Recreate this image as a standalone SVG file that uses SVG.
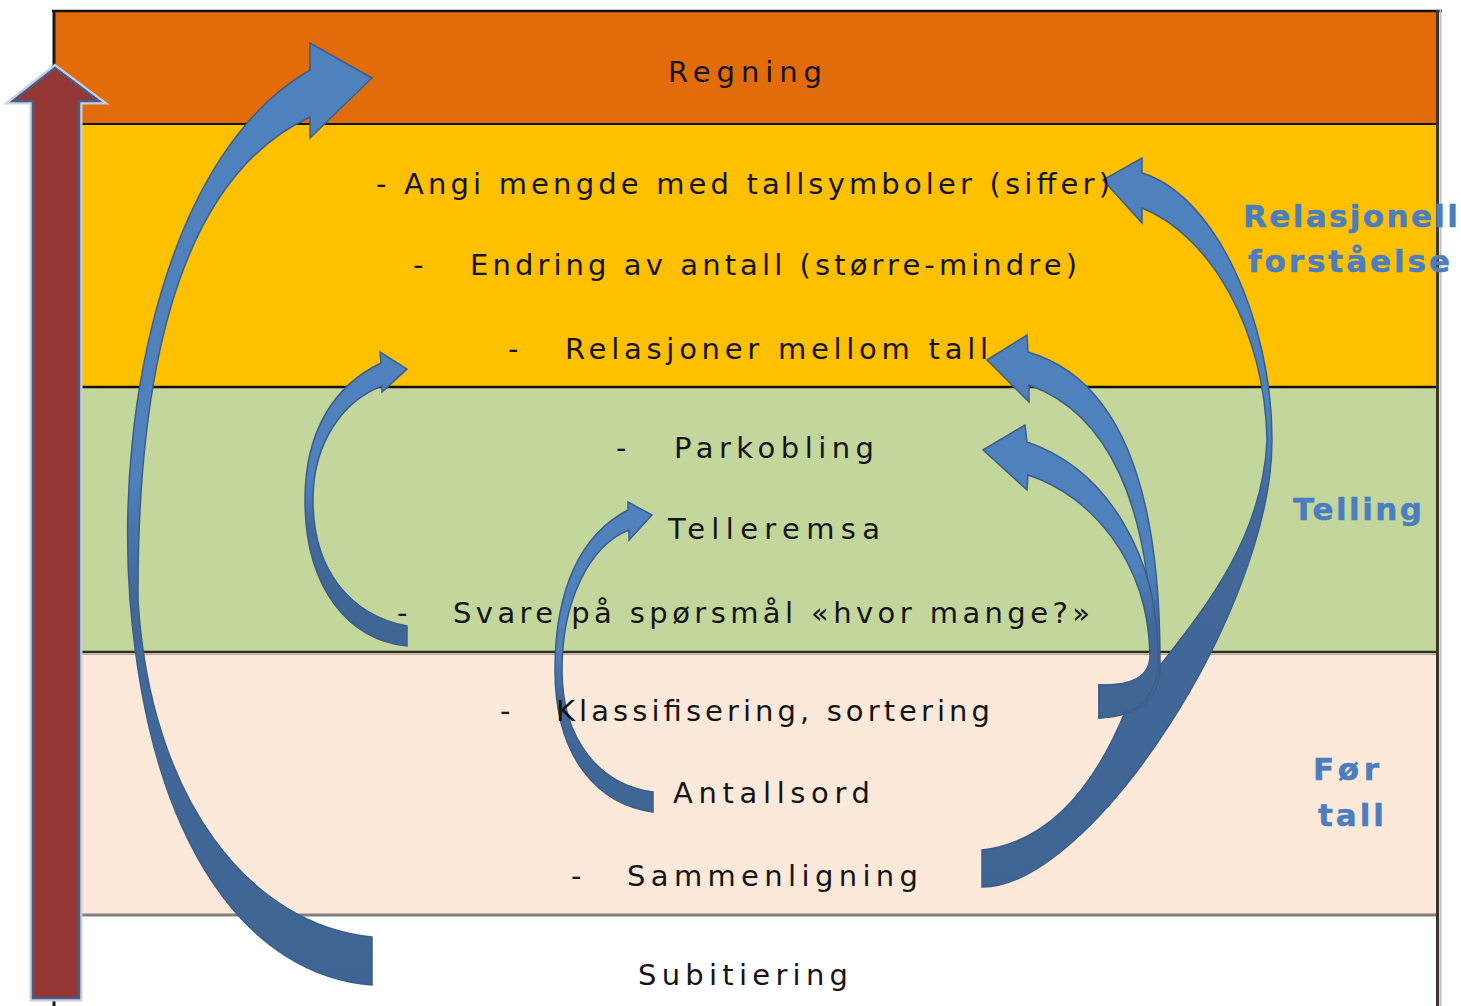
<svg xmlns="http://www.w3.org/2000/svg" width="1461" height="1006" viewBox="0 0 1461 1006">
<defs>
<style>
.t{font-family:"DejaVu Sans","Liberation Sans",sans-serif;font-size:29px;fill:#141414;}
.lbl{font-family:"DejaVu Sans","Liberation Sans",sans-serif;font-size:31px;font-weight:bold;fill:#4A7EC0;stroke:#4A7EC0;stroke-width:0.5;}
.arr{stroke:#3A5E8C;stroke-width:1.5;stroke-linejoin:miter;}
</style>
<linearGradient id="gA" x1="0" y1="0" x2="0" y2="1"><stop offset="0" stop-color="#4F81BD"/><stop offset="0.46" stop-color="#4F81BD"/><stop offset="0.58" stop-color="#43699A"/><stop offset="1" stop-color="#3E6594"/></linearGradient>
<linearGradient id="gB" x1="0" y1="0" x2="0" y2="1"><stop offset="0" stop-color="#4F81BD"/><stop offset="0.45" stop-color="#4F81BD"/><stop offset="0.6" stop-color="#43699A"/><stop offset="1" stop-color="#3E6594"/></linearGradient>
<linearGradient id="gC" x1="0" y1="0" x2="0" y2="1"><stop offset="0" stop-color="#4F81BD"/><stop offset="0.48" stop-color="#4F81BD"/><stop offset="0.62" stop-color="#43699A"/><stop offset="1" stop-color="#3E6594"/></linearGradient>
<linearGradient id="gD" x1="0" y1="0" x2="0" y2="1"><stop offset="0" stop-color="#4F81BD"/><stop offset="0.5" stop-color="#4F81BD"/><stop offset="0.68" stop-color="#43699A"/><stop offset="1" stop-color="#3E6594"/></linearGradient>
<linearGradient id="gE" x1="0" y1="0" x2="0" y2="1"><stop offset="0" stop-color="#4F81BD"/><stop offset="0.36" stop-color="#4F81BD"/><stop offset="0.47" stop-color="#43699A"/><stop offset="1" stop-color="#3E6594"/></linearGradient>
<linearGradient id="gF" x1="0" y1="0" x2="0" y2="1"><stop offset="0" stop-color="#4F81BD"/><stop offset="0.62" stop-color="#4F81BD"/><stop offset="0.76" stop-color="#43699A"/><stop offset="1" stop-color="#3E6594"/></linearGradient>
</defs>
<rect width="1461" height="1006" fill="#ffffff"/>
<g id="bands">
<rect x="54" y="11" width="1384" height="113" fill="#E36C0A"/>
<rect x="54" y="124" width="1384" height="263" fill="#FFC000"/>
<rect x="54" y="387" width="1384" height="265" fill="#C3D69B"/>
<rect x="54" y="652" width="1384" height="263" fill="#FDE9D9"/>
<line x1="52" y1="11" x2="1442" y2="11" stroke="#111" stroke-width="2.5"/>
<line x1="54" y1="124" x2="1438" y2="124" stroke="#111" stroke-width="2"/>
<line x1="54" y1="387" x2="1438" y2="387" stroke="#111" stroke-width="2.5"/>
<line x1="54" y1="652" x2="1438" y2="652" stroke="#2E2E22" stroke-width="2.5"/>
<line x1="54" y1="654.5" x2="1438" y2="654.5" stroke="#BBAA9C" stroke-width="1"/>
<line x1="54" y1="915" x2="1438" y2="915" stroke="#7F7F7F" stroke-width="3"/>
<line x1="54" y1="10" x2="54" y2="1006" stroke="#1A1A1A" stroke-width="3"/>
<line x1="1437.5" y1="10" x2="1437.5" y2="1006" stroke="#3B3428" stroke-width="3"/>
<line x1="1440.5" y1="10" x2="1440.5" y2="1006" stroke="#C0C0C0" stroke-width="2"/>
</g>
<g id="axis-arrow">
<path d="M55 68 L99 101 L79 101 L79 998 L33 998 L33 101 L13 101 Z" fill="none" stroke="#C8D0E0" stroke-width="7" stroke-linejoin="miter"/>
<path d="M55 68 L99 101 L79 101 L79 998 L33 998 L33 101 L13 101 Z" fill="#953735" stroke="#4F5A80" stroke-width="2.5" stroke-linejoin="miter"/>
</g>
<g id="connectors">
<path id="arrow-subitiering-regning" class="arr" fill="url(#gA)" d="M372 985 C250 975 150 850 130 600 C115 400 170 150 310 70 L310 43 L372 78 L310 138 L310 117 C175 180 137 380 138 600 C150 800 250 925 372 937 Z"/>
<path id="arrow-svare-relasjoner" class="arr" fill="url(#gB)" d="M407 646 C350 640 305 590 305 500 C305 430 335 385 381 363 L380 352 L407 369 L382 392 L382 386 C345 400 313 440 313 500 C313 570 350 615 407 626 Z"/>
<path id="arrow-antallsord-telleremsa" class="arr" fill="url(#gC)" d="M653 812 C600 805 555 760 555 670 C555 590 580 535 628 510 L628 502 L652 515 L629 540 L629 530 C590 545 562 600 562 670 C562 740 600 785 653 792 Z"/>
<path id="arrow-sammenligning-siffer" class="arr" fill="url(#gE)" d="M982 887 C1090 888 1272 610 1272 440 C1272 320 1215 195 1142 173 L1142 158 L1103 180 L1142 223 L1142 208 C1210 235 1265 330 1267 440 C1262 560 1175 640 1125 712 C1095 785 1050 842 982 850 Z"/>
<path id="arrow-klassifisering-relasjoner" class="arr" fill="url(#gF)" d="M1099 718 C1140 716 1162 700 1160 660 C1160 500 1125 380 1028 352 L1027 335 L987 360 L1029 402 L1029 385 C1105 412 1152 500 1152 660 C1152 680 1130 686 1099 685 Z"/>
<path id="arrow-klassifisering-parkobling" class="arr" fill="url(#gD)" d="M1099 718 C1135 716 1160 700 1158 655 C1158 560 1110 470 1027 442 L1025 425 L983 450 L1027 490 L1028 475 C1090 495 1148 560 1150 655 C1150 678 1130 686 1099 685 Z"/>
</g>
<g id="node-regning"><text class="t" x="668" y="82" textLength="154" lengthAdjust="spacing">Regning</text></g>
<g id="node-angi"><text class="t" x="376" y="194" textLength="734" lengthAdjust="spacing">- Angi mengde med tallsymboler (siffer)</text></g>
<g id="node-endring"><text class="t" x="413" y="275">-</text><text class="t" x="470" y="275" textLength="607" lengthAdjust="spacing">Endring av antall (større-mindre)</text></g>
<g id="node-relasjoner"><text class="t" x="508" y="359">-</text><text class="t" x="565" y="359" textLength="423" lengthAdjust="spacing">Relasjoner mellom tall</text></g>
<g id="node-parkobling"><text class="t" x="616" y="458">-</text><text class="t" x="674" y="458" textLength="200" lengthAdjust="spacing">Parkobling</text></g>
<g id="node-telleremsa"><text class="t" x="668" y="539" textLength="212" lengthAdjust="spacing">Telleremsa</text></g>
<g id="node-svare"><text class="t" x="397" y="623">-</text><text class="t" x="453" y="623" textLength="637" lengthAdjust="spacing">Svare på spørsmål «hvor mange?»</text></g>
<g id="node-klassifisering"><text class="t" x="500" y="721">-</text><text class="t" x="556" y="721" textLength="434" lengthAdjust="spacing">Klassifisering, sortering</text></g>
<g id="node-antallsord"><text class="t" x="673" y="803" textLength="197" lengthAdjust="spacing">Antallsord</text></g>
<g id="node-sammenligning"><text class="t" x="571" y="886">-</text><text class="t" x="627" y="886" textLength="291" lengthAdjust="spacing">Sammenligning</text></g>
<g id="node-subitiering"><text class="t" x="638" y="985" textLength="210" lengthAdjust="spacing">Subitiering</text></g>
<g id="label-relasjonell"><text class="lbl" x="1243" y="227" textLength="215" lengthAdjust="spacing">Relasjonell</text><text class="lbl" x="1248" y="272" textLength="202" lengthAdjust="spacing">forståelse</text></g>
<g id="label-telling"><text class="lbl" x="1293" y="520" textLength="129" lengthAdjust="spacing">Telling</text></g>
<g id="label-for-tall"><text class="lbl" x="1313" y="780" textLength="66" lengthAdjust="spacing">Før</text><text class="lbl" x="1318" y="826" textLength="66" lengthAdjust="spacing">tall</text></g>
</svg>
